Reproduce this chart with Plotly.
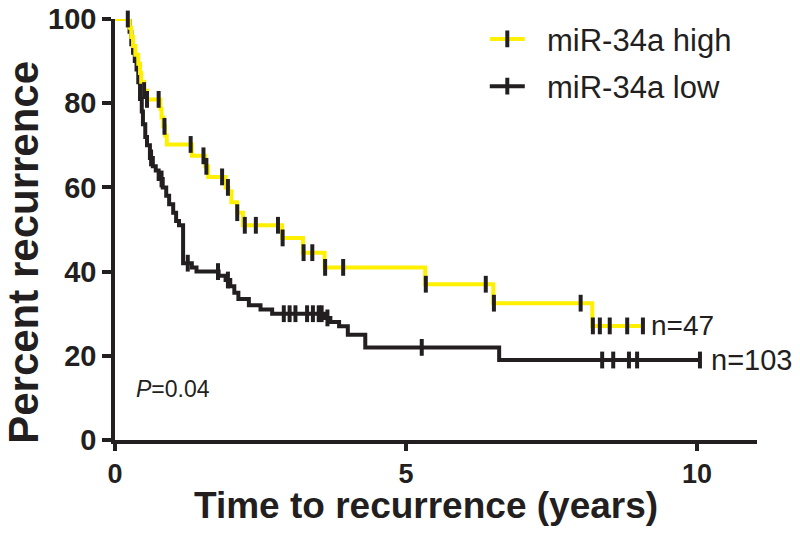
import plotly.graph_objects as go

# ---- data ----
high_t = [0, 0.25, 0.28, 0.31, 0.35, 0.40, 0.43, 0.45, 0.50, 0.55, 0.78, 0.80, 0.83, 0.86, 0.89,
          1.32, 1.55, 1.60, 1.90, 1.95, 2.00, 2.10, 2.20, 2.87, 3.23, 3.60, 5.33, 6.50, 8.20, 9.07]
high_s = [100, 97.9, 95.7, 93.6, 91.5, 89.4, 87.2, 85.1, 83.0, 80.9, 78.7, 76.6, 74.5, 72.3, 70.2,
          67.5, 65.0, 62.5, 60.0, 59.0, 56.5, 54.0, 51.0, 48.0, 44.5, 41.0, 37.0, 32.5, 27.1, 27.1]
high_cens = [0.50, 0.55, 0.75, 0.85, 1.30, 1.52, 1.57, 1.84, 1.94, 2.10, 2.23, 2.42, 2.80, 2.88,
             3.24, 3.39, 3.61, 3.92, 5.34, 6.37, 6.51, 8.00, 8.21, 8.33, 8.50, 8.80, 9.07]

low_t = [0, 0.25, 0.28, 0.31, 0.34, 0.37, 0.40, 0.43, 0.46, 0.48, 0.52, 0.55, 0.60, 0.65, 0.70,
         0.75, 0.82, 0.88, 0.93, 1.00, 1.05, 1.10, 1.17, 1.32, 1.40, 1.78, 1.90, 1.98, 2.05, 2.12,
         2.30, 2.50, 2.70, 3.60, 3.70, 3.85, 4.00, 4.30, 6.60, 10.05]
low_s = [100, 97, 94, 92, 90, 88, 85, 81, 78, 75, 72, 70, 67, 65, 64,
         62, 60, 58, 56, 54, 52, 51, 42, 41, 40, 39, 38, 36.5, 35, 33.5,
         32, 31, 30, 29, 28, 27, 25, 22, 19, 19]
low_cens = [0.22, 0.62, 0.80, 1.25, 1.77, 1.94, 2.90, 3.00, 3.10, 3.30, 3.40, 3.50, 3.55, 3.65,
            5.27, 8.37, 8.56, 8.83, 8.97, 10.05]

x_ticks = [0, 5, 10]
y_ticks = [0, 20, 40, 60, 80, 100]
p_text = "<i>P</i>=0.04"
names = ["miR-34a high", "miR-34a low"]
n_labels = ["n=47", "n=103"]
x_title = "Time to recurrence (years)"
y_title = "Percent recurrence"

YELLOW = "#FFF000"
BLACK = "#231F20"
FONT = "Liberation Sans, Arial, Helvetica, sans-serif"
NBSP = "\u00a0"


def step_val(ts, ss, t):
    v = ss[0]
    for ti, si in zip(ts, ss):
        if ti <= t:
            v = si
    return v


fig = go.Figure()

series = [(low_t, low_s, low_cens, BLACK, names[1]),
          (high_t, high_s, high_cens, YELLOW, names[0])]

for ts, ss, cens, col, nm in series:
    fig.add_trace(go.Scatter(x=ts, y=ss, mode="lines", line=dict(color=col, width=4, shape="hv"),
                             showlegend=False, cliponaxis=False, hoverinfo="skip"))
for ts, ss, cens, col, nm in series:
    fig.add_trace(go.Scatter(x=cens, y=[step_val(ts, ss, c) for c in cens], mode="markers",
                             marker=dict(symbol="line-ns", size=12, line=dict(color=BLACK, width=4)),
                             showlegend=False, cliponaxis=False, hoverinfo="skip"))

# legend entries (high first)
for ts, ss, cens, col, nm in series[::-1]:
    fig.add_trace(go.Scatter(x=[None], y=[None], mode="lines+markers", name=NBSP * 2 + nm,
                             legendgroup=nm, line=dict(color=col, width=4),
                             marker=dict(symbol="line-ns", size=12, line=dict(color=BLACK, width=4))))

fig.add_annotation(x=high_t[-1] + 0.1, y=high_s[-1], text=n_labels[0], showarrow=False,
                   xanchor="left", yanchor="middle", font=dict(size=28, color=BLACK, family=FONT))
fig.add_annotation(x=low_t[-1] + 0.15, y=low_s[-1], text=n_labels[1], showarrow=False,
                   xanchor="left", yanchor="middle", font=dict(size=29, color=BLACK, family=FONT))
fig.add_annotation(x=0.32, y=12, text=p_text, showarrow=False, xanchor="left", yanchor="middle",
                   font=dict(size=23, color=BLACK, family=FONT))

# axis titles
fig.add_annotation(xref="paper", yref="paper", x=0.4844, y=-0.1545, text=x_title, showarrow=False,
                   xanchor="center", yanchor="middle",
                   font=dict(size=37, weight="bold", color=BLACK, family=FONT))
fig.add_annotation(xref="paper", yref="paper", x=-0.1417, y=0.4447, text=y_title, showarrow=False,
                   textangle=-90, xanchor="center", yanchor="middle",
                   font=dict(size=42, weight="bold", color=BLACK, family=FONT))

fig.update_layout(
    width=800, height=539,
    margin=dict(l=115, r=43, t=12.7, b=99),
    plot_bgcolor="white", paper_bgcolor="white",
    font=dict(family=FONT, color=BLACK),
    legend=dict(x=0.576, y=1.016, xanchor="left", yanchor="top", bgcolor="rgba(0,0,0,0)",
                font=dict(size=31, color=BLACK, family=FONT), tracegroupgap=4,
                itemwidth=35, traceorder="grouped"),
    xaxis=dict(range=[0, 11.03], tickvals=x_ticks, showgrid=False, zeroline=False,
               showline=True, linecolor=BLACK, linewidth=3.5, ticks="outside", ticklen=7,
               tickwidth=3.5, tickcolor=BLACK, automargin=False, ticklabeloverflow="allow",
               tickfont=dict(size=27, weight="bold", family=FONT, color=BLACK)),
    yaxis=dict(range=[0, 100], tickvals=y_ticks, showgrid=False, zeroline=False,
               showline=True, linecolor=BLACK, linewidth=3.5, ticks="outside", ticklen=9,
               tickwidth=3.5, tickcolor=BLACK, automargin=False, ticklabeloverflow="allow",
               tickfont=dict(size=29, weight="bold", family=FONT, color=BLACK)),
)

fig.write_html("out.html", config={"displayModeBar": False},
               post_script="document.body.style.margin='0px';")
